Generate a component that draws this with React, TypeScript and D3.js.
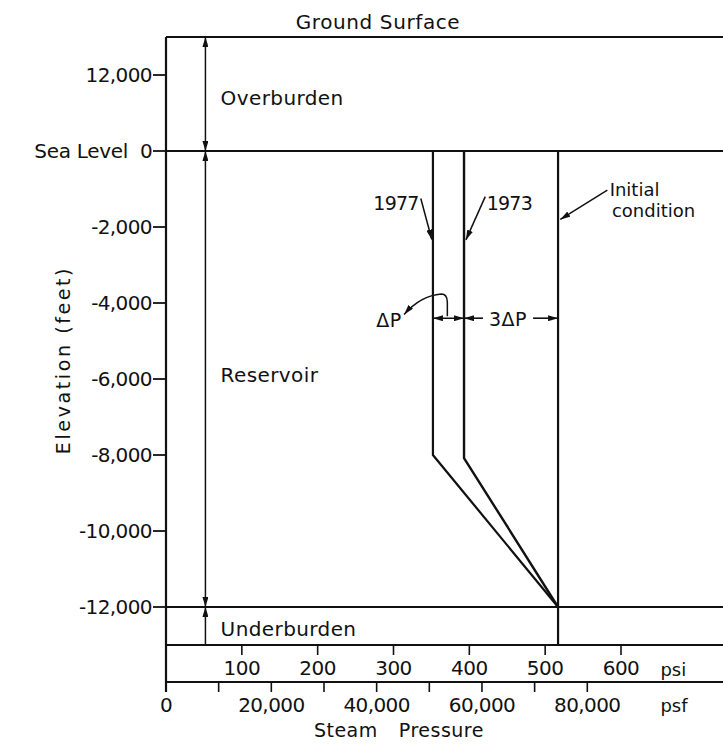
import React from "react";
import * as d3 from "d3";

// ---------- data ----------
const elevationTicks = [2000, 0, -2000, -4000, -6000, -8000, -10000, -12000];
const elevationLabels = ["12,000", "Sea Level 0", "-2,000", "-4,000", "-6,000", "-8,000", "-10,000", "-12,000"];
const psiTicks = [100, 200, 300, 400, 500, 600];
const psiLabels = ["100", "200", "300", "400", "500", "600"];
const psfTicks = [0, 10000, 20000, 30000, 40000, 50000, 60000, 70000, 80000];
const psfLabels = ["0", "", "20,000", "", "40,000", "", "60,000", "", "80,000"];

// pressure profiles (psi vs elevation ft)
const profile1977 = [
  { psi: 352, elev: 0 },
  { psi: 352, elev: -8000 },
  { psi: 517, elev: -12000 },
];
const profile1973 = [
  { psi: 393, elev: 0 },
  { psi: 393, elev: -8080 },
  { psi: 517, elev: -12000 },
];
const profileInitial = [
  { psi: 517, elev: 0 },
  { psi: 517, elev: -13000 },
];

// geological layers (elevation ft)
const layerNames = ["Overburden", "Reservoir", "Underburden"];
const layerTops = [3000, 0, -12000];
const layerBottoms = [0, -12000, -13000];
const layerLabelElev = [1400, -5900, -12580];

const PSF_PER_PSI = 144;

// ---------- layout ----------
const W = 723;
const H = 744;
const FONT = "'DejaVu Sans', sans-serif";

export default function App() {
  const x = d3.scaleLinear().domain([0, 600]).range([166, 621]);
  const y = d3.scaleLinear().domain([0, -12000]).range([151, 607]);

  const groundY = y(layerTops[0]);
  const baseY = y(layerBottoms[2]);
  const psfAxisY = baseY + 37;
  const x0 = x(0);

  const line = d3
    .line<{ psi: number; elev: number }>()
    .x((d) => x(d.psi))
    .y((d) => y(d.elev));

  const arrowX = x(52);
  const deltaElev = -4400;
  const dY = y(deltaElev);

  const stroke = "#111";

  return (
    <svg
      width={W}
      height={H}
      style={{ position: "absolute", left: 0, top: 0, background: "#fff" }}
      fontFamily={FONT}
    >
      <defs>
        <marker
          id="ah"
          viewBox="0 0 10 6"
          refX="10"
          refY="3"
          markerWidth="10"
          markerHeight="6"
          markerUnits="userSpaceOnUse"
          orient="auto-start-reverse"
        >
          <path d="M0,0 L10,3 L0,6 Z" fill={stroke} />
        </marker>
      </defs>

      {/* Ground surface title */}
      <text x={378} y={groundY - 8} textAnchor="middle" fontSize={20} letterSpacing={0.6} fill={stroke}>
        Ground Surface
      </text>

      {/* frame lines */}
      <line x1={x0} x2={W} y1={groundY} y2={groundY} stroke={stroke} strokeWidth={2.2} />
      <line x1={x0} x2={W} y1={y(0)} y2={y(0)} stroke={stroke} strokeWidth={2} />
      <line x1={x0} x2={W} y1={y(-12000)} y2={y(-12000)} stroke={stroke} strokeWidth={2} />
      <line x1={x0} x2={W} y1={baseY} y2={baseY} stroke={stroke} strokeWidth={2.2} />
      <line x1={x0} x2={W} y1={psfAxisY} y2={psfAxisY} stroke={stroke} strokeWidth={2.2} />
      <line x1={x0} x2={x0} y1={groundY} y2={psfAxisY + 10} stroke={stroke} strokeWidth={2.2} />

      {/* elevation ticks */}
      {elevationTicks.map((t, i) => {
        const lab = elevationLabels[i];
        const k = lab.lastIndexOf(" ");
        const prefix = k >= 0 ? lab.slice(0, k) : "";
        const main = k >= 0 ? lab.slice(k + 1) : lab;
        return (
          <g key={"et" + t}>
            <line x1={x0 - 13} x2={x0} y1={y(t)} y2={y(t)} stroke={stroke} strokeWidth={1.8} />
            <text
              x={x0 - 14}
              y={y(t)}
              textAnchor="end"
              dominantBaseline="central"
              fontSize={20}
              letterSpacing={-0.6}
              fill={stroke}
            >
              {main}
            </text>
            {prefix && (
              <text
                x={x0 - 38}
                y={y(t)}
                textAnchor="end"
                dominantBaseline="central"
                fontSize={20}
                letterSpacing={-0.3}
                fill={stroke}
              >
                {prefix}
              </text>
            )}
          </g>
        );
      })}
      <text
        transform={`translate(63, ${y(-5500)}) rotate(-90)`}
        textAnchor="middle"
        dominantBaseline="central"
        fontSize={19}
        letterSpacing={2.6}
        fill={stroke}
      >
        Elevation (feet)
      </text>

      {/* psi ticks */}
      {psiTicks.map((t, i) => (
        <g key={"pt" + t}>
          <line x1={x(t)} x2={x(t)} y1={baseY} y2={baseY + 10} stroke={stroke} strokeWidth={1.6} />
          <text x={x(t)} y={baseY + 30} textAnchor="middle" fontSize={20} letterSpacing={-0.5} fill={stroke}>
            {psiLabels[i]}
          </text>
        </g>
      ))}
      <text x={x(652)} y={baseY + 31} fontSize={18} fill={stroke}>psi</text>

      {/* psf ticks */}
      {psfTicks.map((t, i) => (
        <g key={"ft" + t}>
          <line
            x1={x(t / PSF_PER_PSI)}
            x2={x(t / PSF_PER_PSI)}
            y1={psfAxisY}
            y2={psfAxisY + 10}
            stroke={stroke}
            strokeWidth={1.6}
          />
          {psfLabels[i] && (
            <text
              x={x(t / PSF_PER_PSI)}
              y={psfAxisY + 30}
              textAnchor="middle"
              fontSize={20}
              letterSpacing={-0.6}
              fill={stroke}
            >
              {psfLabels[i]}
            </text>
          )}
        </g>
      ))}
      <text x={x(652)} y={psfAxisY + 30} fontSize={18} fill={stroke}>psf</text>
      <text x={x(195)} y={psfAxisY + 55} fontSize={19} letterSpacing={0.5} fill={stroke}>Steam</text>
      <text x={x(307)} y={psfAxisY + 55} fontSize={19} letterSpacing={0.5} fill={stroke}>Pressure</text>

      {/* layer arrows and labels */}
      <line x1={arrowX} x2={arrowX} y1={y(layerTops[0])} y2={y(layerBottoms[0])} stroke={stroke} strokeWidth={1.5}
        markerStart="url(#ah)" markerEnd="url(#ah)" />
      <line x1={arrowX} x2={arrowX} y1={y(layerTops[1])} y2={y(layerBottoms[1])} stroke={stroke} strokeWidth={1.5}
        markerStart="url(#ah)" markerEnd="url(#ah)" />
      <line x1={arrowX} x2={arrowX} y1={y(layerBottoms[2])} y2={y(layerTops[2])} stroke={stroke} strokeWidth={1.5}
        markerEnd="url(#ah)" />
      {layerNames.map((n, i) => (
        <text key={n} x={x(72)} y={y(layerLabelElev[i])} dominantBaseline="central" fontSize={20} letterSpacing={0.4} fill={stroke}>
          {n}
        </text>
      ))}

      {/* pressure profiles */}
      <path d={line(profile1977) || ""} fill="none" stroke={stroke} strokeWidth={2.2} strokeLinejoin="miter" />
      <path d={line(profile1973) || ""} fill="none" stroke={stroke} strokeWidth={2.4} strokeLinejoin="miter" />
      <path d={line(profileInitial) || ""} fill="none" stroke={stroke} strokeWidth={2.2} />

      {/* profile labels */}
      <text x={x(333)} y={y(-1370)} textAnchor="end" dominantBaseline="central" fontSize={19} letterSpacing={-0.8} fill={stroke}>
        1977
      </text>
      <line x1={x(336)} y1={y(-1250)} x2={x(350.5)} y2={y(-2330)} stroke={stroke} strokeWidth={1.5} markerEnd="url(#ah)" />
      <text x={x(423)} y={y(-1370)} dominantBaseline="central" fontSize={19} letterSpacing={-0.8} fill={stroke}>
        1973
      </text>
      <line x1={x(421)} y1={y(-1200)} x2={x(395.5)} y2={y(-2340)} stroke={stroke} strokeWidth={1.5} markerEnd="url(#ah)" />
      <text x={x(585)} y={y(-1180)} fontSize={18} fill={stroke}>Initial</text>
      <text x={x(588)} y={y(-1740)} fontSize={18} fill={stroke}>condition</text>
      <line x1={x(582)} y1={y(-1030)} x2={x(520)} y2={y(-1800)} stroke={stroke} strokeWidth={1.5} markerEnd="url(#ah)" />

      {/* delta P annotations */}
      <line x1={x(352)} x2={x(393)} y1={dY} y2={dY} stroke={stroke} strokeWidth={1.6}
        markerStart="url(#ah)" markerEnd="url(#ah)" />
      <line x1={x(418)} x2={x(393)} y1={dY} y2={dY} stroke={stroke} strokeWidth={1.6} markerEnd="url(#ah)" />
      <line x1={x(484)} x2={x(517)} y1={dY} y2={dY} stroke={stroke} strokeWidth={1.6} markerEnd="url(#ah)" />
      <text x={x(451)} y={dY + 1} textAnchor="middle" dominantBaseline="central" fontSize={19} letterSpacing={0.5} fill={stroke}>
        3ΔP
      </text>
      <text x={x(311)} y={dY + 2} textAnchor="end" dominantBaseline="central" fontSize={19} letterSpacing={0.5} fill={stroke}>
        ΔP
      </text>
      <path
        d={`M${x(371)},${dY - 2} L${x(371)},${y(-3980)} Q${x(371)},${y(-3760)} ${x(363)},${y(-3760)} Q${x(336)},${y(-3800)} ${x(314)},${y(-4300)}`}
        fill="none"
        stroke={stroke}
        strokeWidth={1.5}
        markerEnd="url(#ah)"
      />
    </svg>
  );
}
